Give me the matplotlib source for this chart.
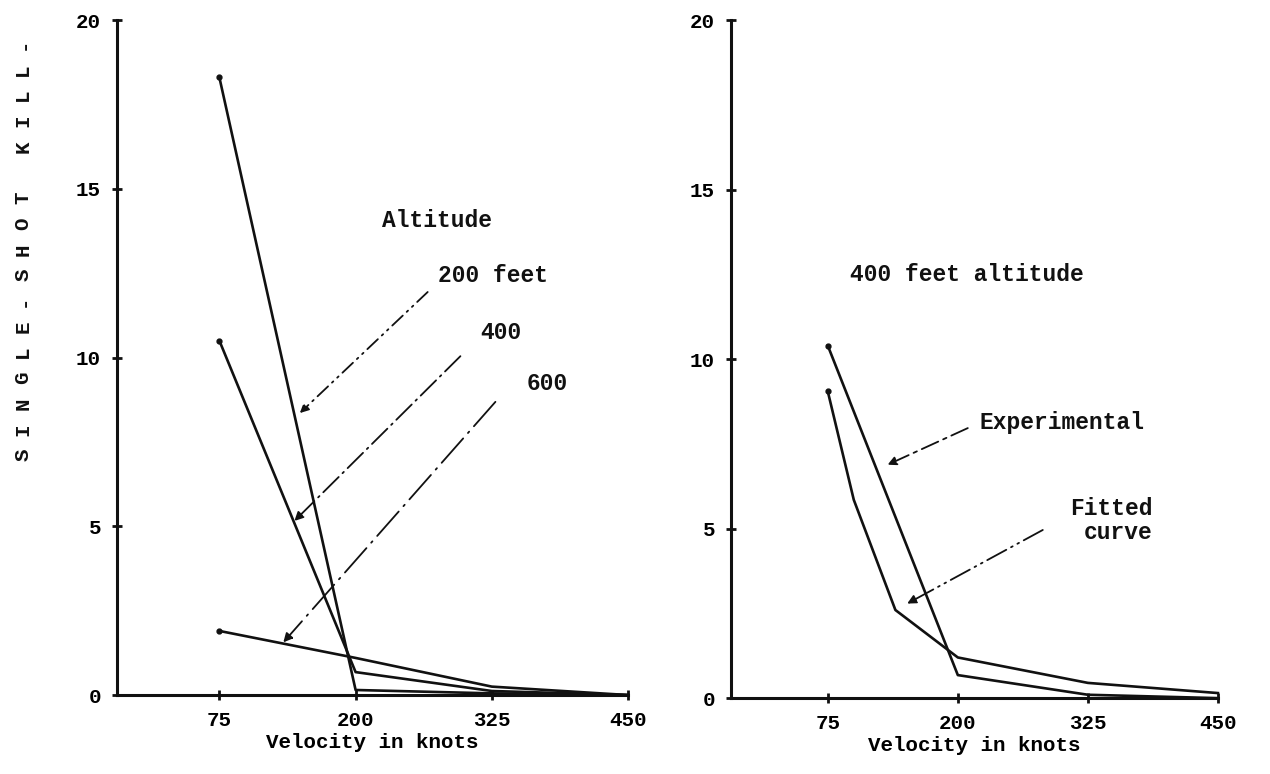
import matplotlib.pyplot as plt

# ── Dane ──────────────────────────────────────────────────────────────────────
velocity = [75, 200, 325, 450]
kill_200ft = [18.3, 0.15, 0.05, 0.0]
kill_400ft = [10.5, 0.68, 0.12, 0.0]
kill_600ft = [1.9, 1.1, 0.25, 0.0]

exp_velocity = [75, 200, 325, 450]
experimental = [10.4, 0.68, 0.1, 0.0]
fit_velocity = [75, 100, 140, 200, 325, 450]
fitted = [9.05, 5.85, 2.6, 1.2, 0.45, 0.15]

x_ticks = [75, 200, 325, 450]
y_ticks = [0, 5, 10, 15, 20]

ylabel_text = 'SINGLE-SHOT KILL-'

FONT = 'Liberation Mono'
INK = '#111111'

fig = plt.figure(figsize=(12.7, 7.74), dpi=100)
ax1 = fig.add_axes([0.0921, 0.102, 0.4024, 0.872])
ax2 = fig.add_axes([0.5756, 0.098, 0.3834, 0.876])


def style_axes(ax, xmin):
    ax.set_xlim(xmin, 450)
    ax.set_ylim(0, 20)
    for s in ('top', 'right'):
        ax.spines[s].set_visible(False)
    for s in ('left', 'bottom'):
        ax.spines[s].set_linewidth(2.2)
        ax.spines[s].set_color(INK)
    ax.set_xticks(x_ticks)
    ax.set_yticks(y_ticks)
    ax.tick_params(direction='inout', length=7, width=2, color=INK,
                   labelsize=15, pad=8)
    for lab in ax.get_xticklabels() + ax.get_yticklabels():
        lab.set_fontfamily(FONT)
        lab.set_fontweight('bold')
    ax.set_xlabel('Velocity in knots', fontfamily=FONT, fontweight='bold',
                  fontsize=15, labelpad=2)
    ax.patch.set_alpha(0)


style_axes(ax1, -19)
style_axes(ax2, -18)

# ── Panel lewy ────────────────────────────────────────────────────────────────
for vals in (kill_200ft, kill_400ft, kill_600ft):
    ax1.plot(velocity, vals, color=INK, lw=1.9, marker='o', ms=3.5,
             markevery=[0], clip_on=False)

txt = dict(fontfamily=FONT, fontweight='bold', fontsize=16.5, color=INK)
ax1.text(224, 14.07, 'Altitude', va='center', **txt)
ax1.text(276, 12.44, '200 feet', va='center', **txt)
ax1.text(314, 10.73, '400', va='center', **txt)
ax1.text(357, 9.24, '600', va='center', **txt)

arr = dict(arrowstyle='-|>', color=INK, lw=1.3, mutation_scale=13)
ax1.annotate('', xy=(147, 8.3), xytext=(268, 12.0),
             arrowprops=dict(ls=(0, (8, 3, 1, 3, 1, 3)), **arr))
ax1.annotate('', xy=(142, 5.1), xytext=(298, 10.1),
             arrowprops=dict(ls=(0, (12, 3, 1, 3)), **arr))
ax1.annotate('', xy=(132, 1.5), xytext=(330, 8.75),
             arrowprops=dict(ls=(0, (18, 4, 1, 4)), **arr))

# pionowy podpis osi: litery rozstawione jak na maszynie do pisania
step = 25.7 / 774
y0 = 1 - 455 / 774
for i, ch in enumerate(ylabel_text):
    if ch == ' ':
        continue
    fig.text(0.018, y0 + i * step, ch, rotation=90, ha='center', va='center',
             fontfamily=FONT, fontweight='bold', fontsize=15, color=INK)

# ── Panel prawy ───────────────────────────────────────────────────────────────
ax2.plot(exp_velocity, experimental, color=INK, lw=1.9, marker='o', ms=3.5,
         markevery=[0], clip_on=False)
ax2.plot(fit_velocity, fitted, color=INK, lw=1.9, marker='o', ms=3.5,
         markevery=[0], clip_on=False)

ax2.text(96, 12.5, '400 feet altitude', va='center', **txt)
ax2.text(221, 8.14, 'Experimental', va='center', **txt)
ax2.text(387, 5.6, 'Fitted', ha='right', va='center', **txt)
ax2.text(387, 4.9, 'curve', ha='right', va='center', **txt)

ax2.annotate('', xy=(130, 6.85), xytext=(212, 8.0),
             arrowprops=dict(ls=(0, (10, 3, 2, 3)), **arr))
ax2.annotate('', xy=(149, 2.75), xytext=(284, 5.0),
             arrowprops=dict(ls=(0, (12, 3, 1, 3, 1, 3)), **arr))

fig.savefig('out.png', dpi=100)
